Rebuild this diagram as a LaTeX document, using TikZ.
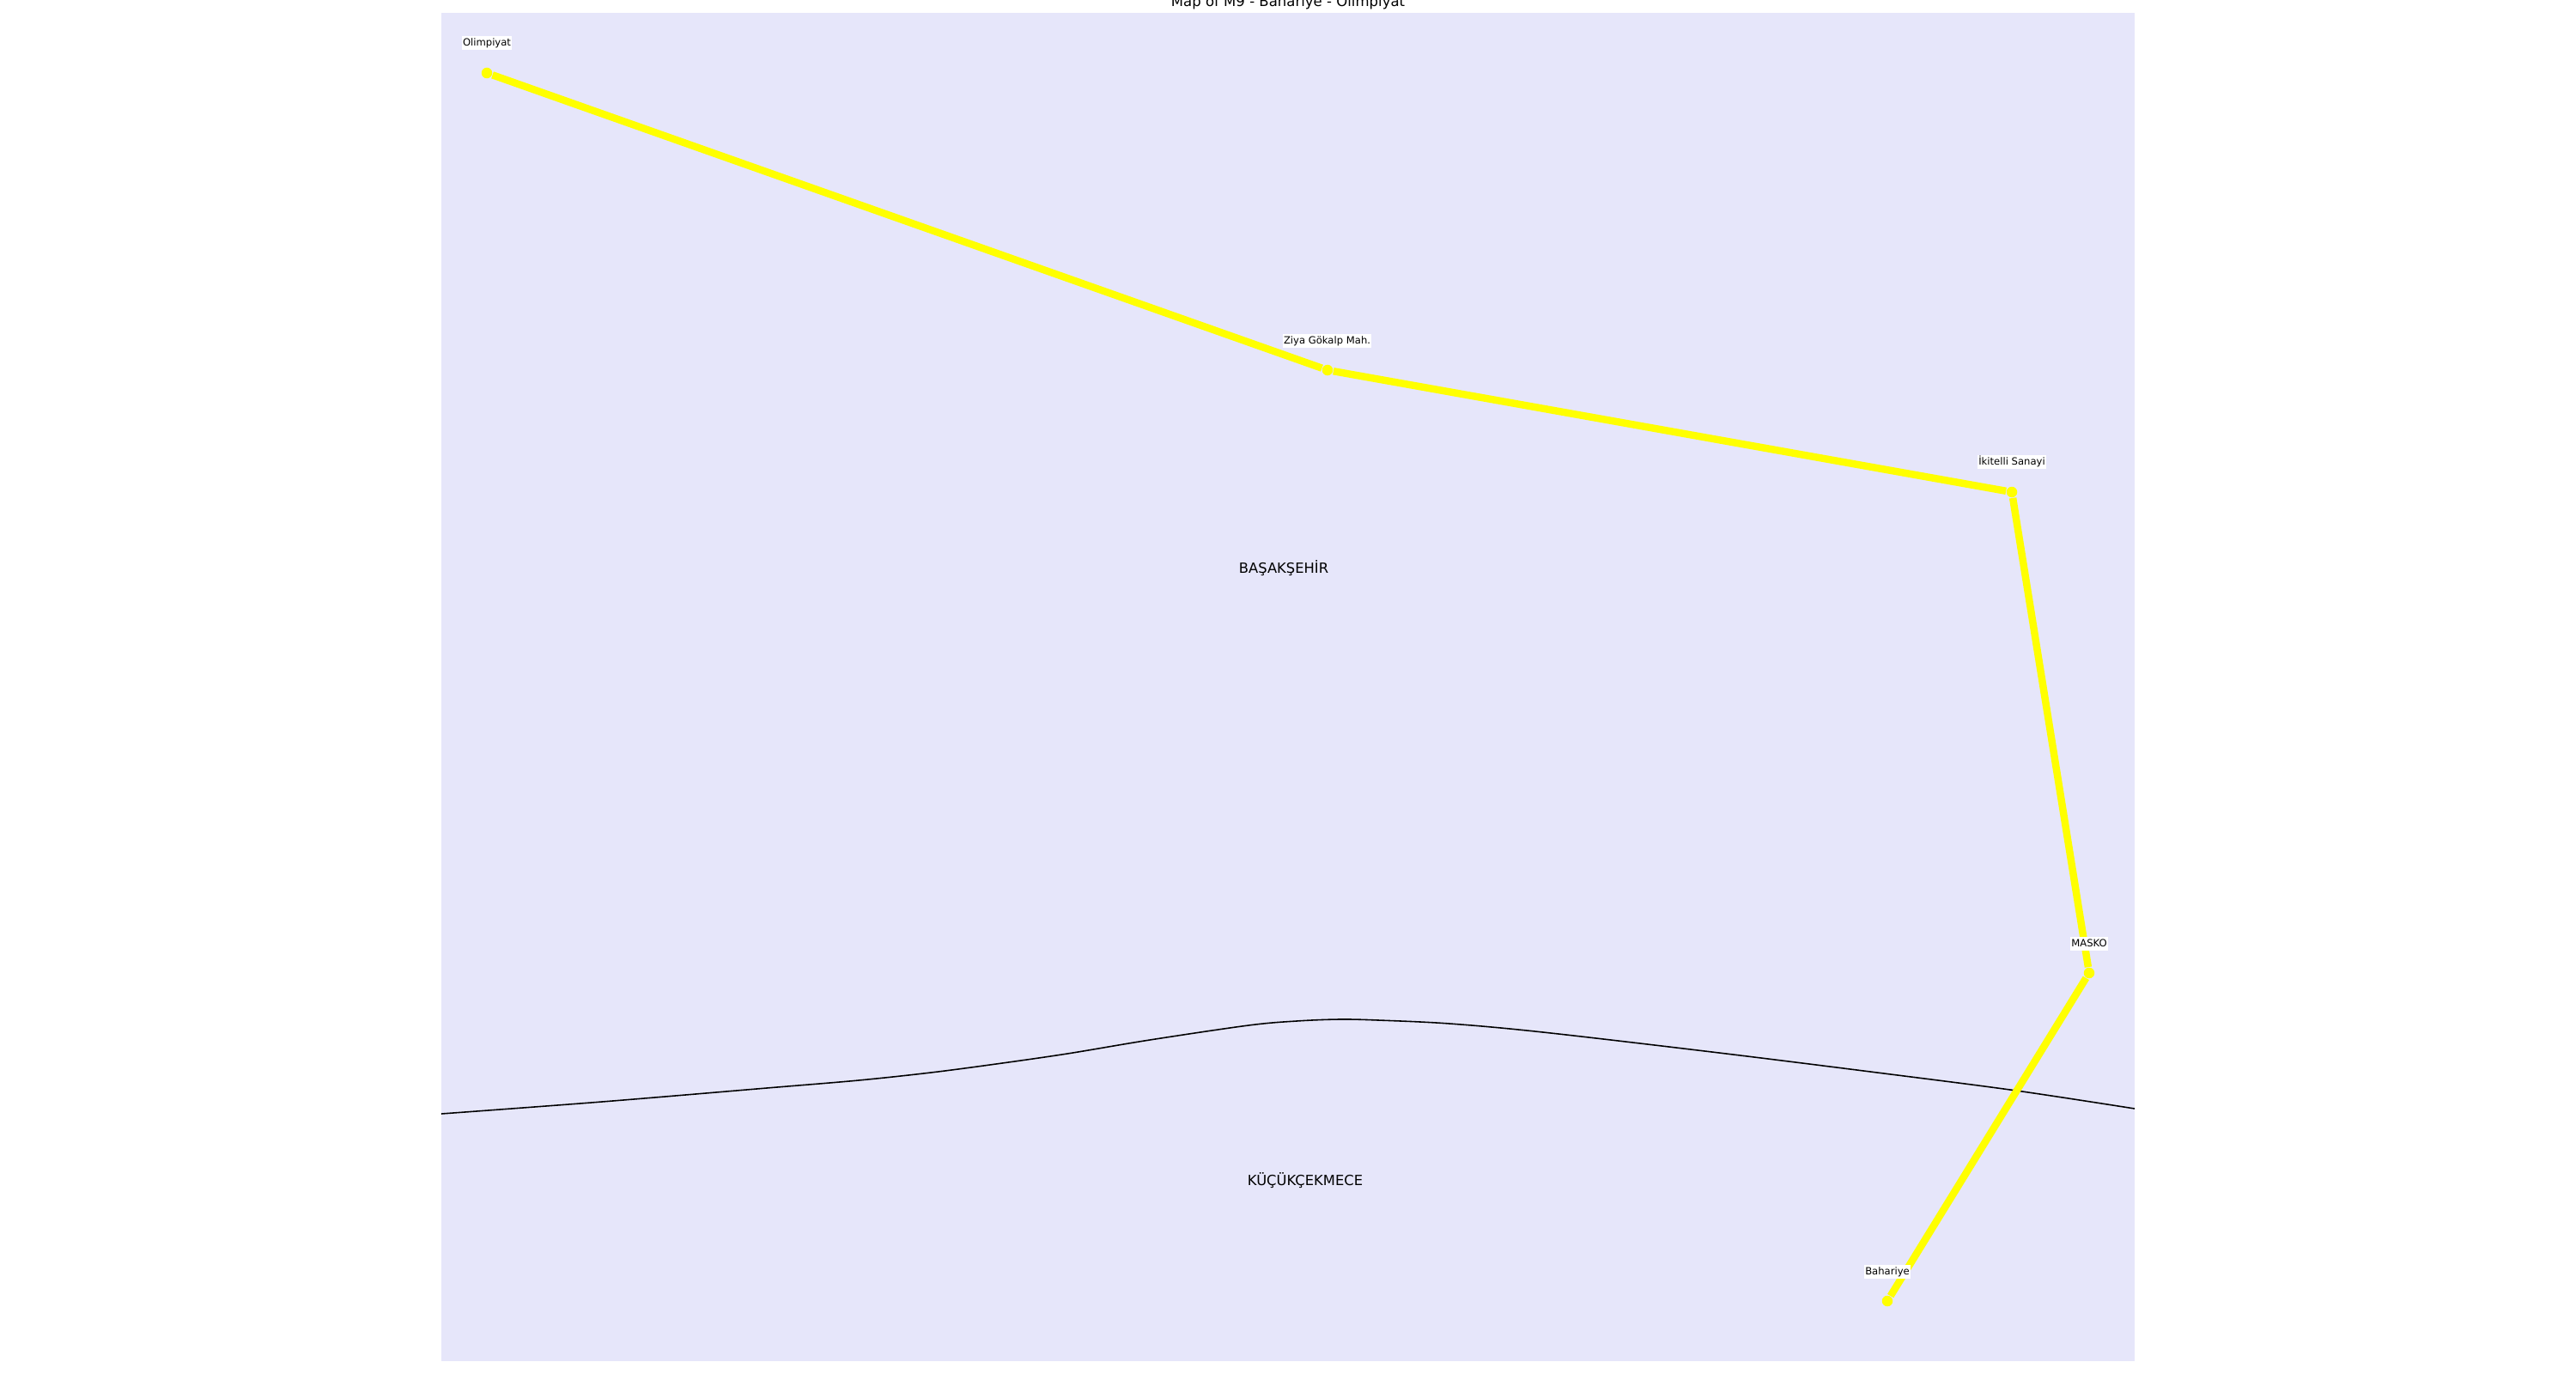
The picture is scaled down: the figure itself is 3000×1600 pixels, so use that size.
\documentclass[tikz,border=0pt]{standalone}
\usepackage{fontspec}
\setmainfont{DejaVu Sans}
\definecolor{district}{HTML}{E6E6FA}
\definecolor{lineyellow}{RGB}{255,255,0}

\begin{document}
\begin{tikzpicture}[x=0.01cm,y=-0.01cm,
    station/.style={circle,fill=lineyellow,inner sep=0pt,minimum size=0.125cm},
    stationname/.style={fill=white,inner xsep=0.4pt,inner ysep=0.6pt,
      text height=2.7pt,text depth=0.6pt,font=\fontsize{3.3}{4}\selectfont},
    districtname/.style={anchor=base,font=\fontsize{4.65}{6}\selectfont}]
    \useasboundingbox (0,0) rectangle (3000,1600);
    \fill[district] (514,15) rectangle (2486,1585);
    \node[anchor=base,font=\fontsize{4.7}{6}\selectfont] (T) at (1500,8)
         {Map of M9 - Bahariye - Olimpiyat};

    % border between the two districts
    \coordinate (W) at (514,1297);
    \coordinate (E) at (2486,1291);
    \draw[black,line width=0.45pt] plot[smooth,tension=0.55] coordinates {(W)
      (701,1283) (893,1267) (1000,1258) (1084,1249) (1160,1239) (1243,1227)
      (1339,1211) (1454,1194) (1510,1189) (1560,1187) (1605,1188) (1688,1192)
      (1797,1202) (2002,1226) (2194,1250) (2348,1270) (E)};

    \node[districtname] (BS) at (1495,667) {BAŞAKŞEHİR};
    \node[districtname] (KC) at (1520,1380) {KÜÇÜKÇEKMECE};

    \begin{scope}[every edge/.style={draw=lineyellow,line width=2.4pt}]
      \node[station] (A) at (567,85) {};
      \node[station] (B) at (1546,431) {};
      \node[station] (C) at (2343,573) {};
      \node[station] (D) at (2433,1133) {};
      \node[station] (F) at (2198,1515) {};
      \path (A) edge (B);
      \path (B) edge (C);
      \path (C) edge (D);
      \path (D) edge (F);
    \end{scope}

    \begin{scope}[every node/.style={stationname}]
      \node (LA) at (567,50) {Olimpiyat};
      \node (LB) at (1545.5,397) {Ziya Gökalp Mah.};
      \node (LC) at (2343,538) {İkitelli Sanayi};
      \node (LD) at (2433,1099) {MASKO};
      \node (LF) at (2198,1481) {Bahariye};
    \end{scope}
\end{tikzpicture}
\end{document}
